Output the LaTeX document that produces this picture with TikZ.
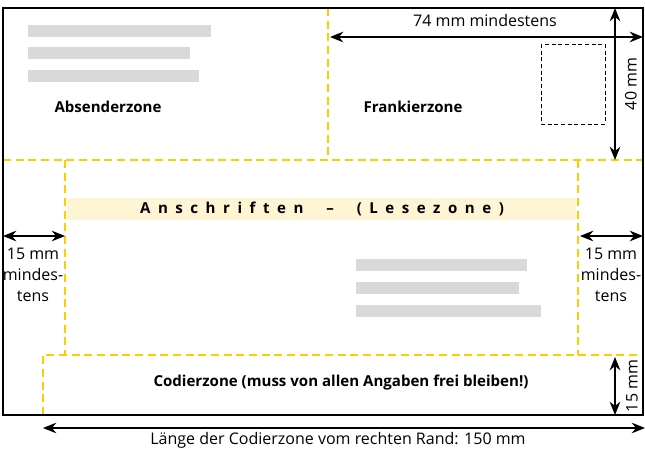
\documentclass[tikz,border=0pt]{standalone}
\usepackage{fontspec}
\setmainfont{Open Sans}
\newfontfamily\spacedfont[LetterSpace=50]{Open Sans}
\usetikzlibrary{arrows.meta}
\definecolor{zoneyellow}{RGB}{255,204,0}
\definecolor{bargrey}{RGB}{217,217,217}
\definecolor{readband}{RGB}{253,245,212}

\begin{document}
\begin{tikzpicture}[
  x=0.75pt, y=-0.75pt,
  every node/.style={font=\fontsize{12}{15.5}\selectfont, inner sep=0pt},
  zone/.style={draw=zoneyellow, line width=1.8pt, dash pattern=on 6pt off 3.5pt},
  bar/.style={fill=bargrey},
  zonename/.style={font=\fontsize{11.3}{14}\selectfont\bfseries},
  measure/.style={<->, >={Stealth[length=10pt,width=8pt]}, line width=1pt, color=black}
]
    \useasboundingbox (0,0) rectangle (645,450);

    % Zone lines
    \draw[zone] (328,8) -- (328,160);
    \draw[zone] (3,160) -- (643,160);
    \draw[zone] (65,160) -- (65,355);
    \draw[zone] (578,160) -- (578,355);
    \draw[zone] (43,415) -- (43,355) -- (643,355);

    % Envelope
    \draw[line width=1.1pt] (3,8) rectangle (643,415);

    % Absenderzone
    \fill[bar] (28,25) rectangle (211,37);
    \fill[bar] (28,47) rectangle (190,59);
    \fill[bar] (28,70) rectangle (199,82);
    \node (absender) at (108,107) [zonename] {Absenderzone};

    % Frankierzone
    \node (frankier) at (413,107) [zonename] {Frankierzone};
    \draw[densely dashed, line width=0.7pt] (541,44) rectangle (605,124);
    \coordinate (franktop) at (330,37);
    \coordinate (frankright) at (643,37);
    \draw[measure] (franktop) -- (frankright);
    \node (minfrank) at (485,20) {74 mm mindestens};
    \coordinate (hightop) at (615,8);
    \coordinate (highbottom) at (615,160);
    \draw[measure] (hightop) -- (highbottom);
    \node (highlabel) at (631,84) [rotate=90] {40 mm};

    % Anschriften
    \fill[readband] (67,198) rectangle (576,220);
    \node (anschrift) at (322,209) [font=\fontsize{11.3}{14}\spacedfont\bfseries] {Anschriften\ \ –\ \ (Lesezone)};
    \fill[bar] (356,259) rectangle (527,271);
    \fill[bar] (356,282) rectangle (519,294);
    \fill[bar] (356,305) rectangle (541,317);

    % Margins
    \coordinate (leftedge) at (3,236);
    \coordinate (leftzone) at (65,236);
    \draw[measure] (leftedge) -- (leftzone);
    \node (leftlabel) at (33,275) [align=center] {15 mm\\mindes-\\tens};
    \coordinate (rightzone) at (580,236);
    \coordinate (rightedge) at (643,236);
    \draw[measure] (rightzone) -- (rightedge);
    \node (rightlabel) at (611,275) [align=center] {15 mm\\mindes-\\tens};

    % Codierzone
    \node (codier) at (341,383) [zonename] {Codierzone (muss von allen Angaben frei bleiben!)};
    \coordinate (codetop) at (615,357);
    \coordinate (codebottom) at (615,415);
    \draw[measure] (codetop) -- (codebottom);
    \node (codelabel) at (632,386) [rotate=90] {15 mm};
    \coordinate (codeleft) at (43,428);
    \coordinate (coderight) at (645,428);
    \draw[measure] (codeleft) -- (coderight);
    \node (codelength) at (338,440) {Länge der Codierzone vom rechten Rand: 150 mm};
\end{tikzpicture}
\end{document}
